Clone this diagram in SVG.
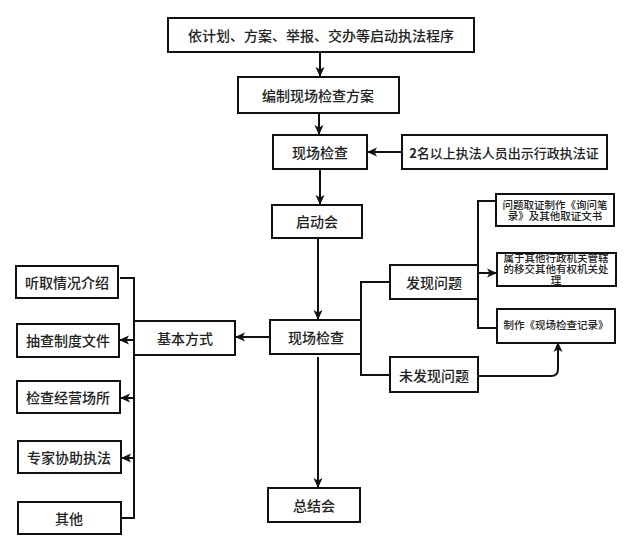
<svg xmlns="http://www.w3.org/2000/svg" width="640" height="543" viewBox="0 0 640 543">
<defs>
<marker id="arr" markerWidth="10" markerHeight="10" viewBox="0 0 10 10" refX="9" refY="5" orient="auto" markerUnits="userSpaceOnUse">
<path d="M0,0.5 L10,5 L0,9.5 L2.5,5 Z" fill="#111"/>
</marker>
<style>
.box{fill:#fff;stroke:#111;stroke-width:2}
.t{font-family:"Noto Sans CJK SC","Noto Sans",sans-serif;font-size:14px;fill:#222;text-anchor:middle;dominant-baseline:central;font-weight:500}
.s{font-family:"Liberation Sans","Noto Sans CJK SC",sans-serif;font-size:10.5px;fill:#222;text-anchor:middle;font-weight:500}
.c{fill:none;stroke:#111;stroke-width:2}
.a{fill:none;stroke:#111;stroke-width:2;marker-end:url(#arr)}
</style>
</defs>
<rect width="640" height="543" fill="#fff"/>
<g id="connectors">
<path class="a" d="M320,52 V76"/>
<path class="a" d="M319,113 V134"/>
<path class="a" d="M402,152 H368"/>
<path class="a" d="M320,169 V204"/>
<path class="a" d="M318,238 V319"/>
<path class="a" d="M318,357 V487"/>
<path class="a" d="M270,337 H236"/>
<path class="c" d="M120,278 H134 V518 H121"/>
<path class="a" d="M134,340 H120"/>
<path class="a" d="M134,398 H121"/>
<path class="a" d="M134,458 H122"/>
<path class="c" d="M390,282 H361 V375 H390"/>
<path class="c" d="M495,201 H478 V328 H497"/>
<path class="a" d="M478,273 H496"/>
<path class="a" d="M478,376 H551 Q558,376 558,369 V343"/>
</g>
<g id="n1"><rect class="box" x="168" y="18" width="306" height="34"/><text class="t" x="321" y="35">依计划、方案、举报、交办等启动执法程序</text></g>
<g id="n2"><rect class="box" x="238" y="77" width="161" height="36"/><text class="t" x="318" y="95">编制现场检查方案</text></g>
<g id="n3"><rect class="box" x="273" y="135" width="94" height="34"/><text class="t" x="320" y="152">现场检查</text></g>
<g id="n4"><rect class="box" x="402" y="135" width="205" height="34"/><text class="t" x="504" y="152" style="font-size:13px"><tspan font-weight="700">2</tspan>名以上执法人员出示行政执法证</text></g>
<g id="n5"><rect class="box" x="272" y="205" width="90" height="33"/><text class="t" x="317" y="221">启动会</text></g>
<g id="n6"><rect class="box" x="270" y="320" width="91" height="34"/><text class="t" x="316" y="337">现场检查</text></g>
<g id="n7"><rect class="box" x="268" y="488" width="92" height="34"/><text class="t" x="314" y="505">总结会</text></g>
<g id="n8"><rect class="box" x="134" y="321" width="101" height="34"/><text class="t" x="185" y="338">基本方式</text></g>
<g id="n9"><rect class="box" x="16" y="266" width="102" height="32"/><text class="t" x="67" y="282">听取情况介绍</text></g>
<g id="n10"><rect class="box" x="17" y="324" width="102" height="33"/><text class="t" x="68" y="340">抽查制度文件</text></g>
<g id="n11"><rect class="box" x="17" y="381" width="103" height="32"/><text class="t" x="68" y="397">检查经营场所</text></g>
<g id="n12"><rect class="box" x="18" y="441" width="103" height="32"/><text class="t" x="69" y="457">专家协助执法</text></g>
<g id="n13"><rect class="box" x="18" y="502" width="103" height="32"/><text class="t" x="69" y="518">其他</text></g>
<g id="n14"><rect class="box" x="390" y="265" width="88" height="34"/><text class="t" x="434" y="282">发现问题</text></g>
<g id="n15"><rect class="box" x="390" y="357" width="88" height="35"/><text class="t" x="434" y="375">未发现问题</text></g>
<g id="n16"><rect class="box" x="496" y="194" width="118" height="32"/><text class="s" x="555" y="208.5">问题取证制作《询问笔<tspan x="555" dy="11">录》及其他取证文书</tspan></text></g>
<g id="n17"><rect class="box" x="497" y="253" width="119" height="33"/><text class="s" x="556" y="262">属于其他行政机关管辖<tspan x="556" dy="11">的移交其他有权机关处</tspan><tspan x="556" dy="11">理</tspan></text></g>
<g id="n18"><rect class="box" x="497" y="309" width="118" height="34"/><text class="s" x="556" y="329">制作《现场检查记录》</text></g>
</svg>
